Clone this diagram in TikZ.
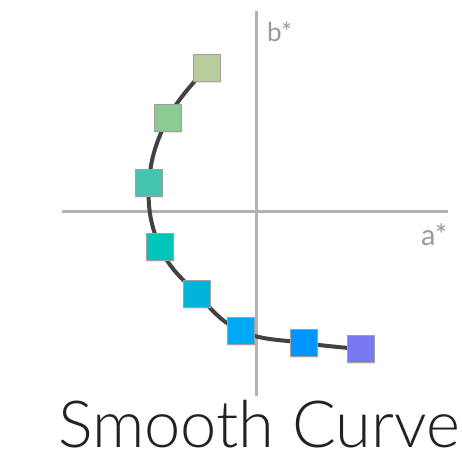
\documentclass[tikz,border=0pt]{standalone}
\usepackage{fontspec}
\setmainfont{Lato}
\newfontfamily\thinfont{Lato Light}
\usetikzlibrary{backgrounds,shadows}
\definecolor{axisgray}{HTML}{B2B2B2}
\definecolor{labelgray}{HTML}{999999}
\definecolor{curvegray}{HTML}{424242}
\definecolor{swatchedge}{HTML}{A0A0A0}
\definecolor{titleink}{HTML}{222222}
\definecolor{sageA}{HTML}{B9CC9B}
\definecolor{sageB}{HTML}{8BCB93}
\definecolor{tealA}{HTML}{44C4AC}
\definecolor{tealB}{HTML}{00C5B8}
\definecolor{cyanA}{HTML}{00B4DC}
\definecolor{cyanB}{HTML}{00A9F5}
\definecolor{blueA}{HTML}{0096FF}
\definecolor{violetA}{HTML}{7878F2}
\tikzset{
  swatch/.style={draw=swatchedge,line width=1.3pt,minimum size=27.5pt,inner sep=0pt,
    drop shadow={opacity=0.18,shadow xshift=0.6pt,shadow yshift=-0.9pt}},
  axis/.style={draw=axisgray,line width=3pt},
  curve/.style={draw=curvegray,line width=4pt},
  axislabel/.style={text=labelgray,inner sep=0pt,font=\fontsize{26}{26}\selectfont}
}

\begin{document}
\begin{tikzpicture}[x=1pt,y=-1pt]
\useasboundingbox (0,0) rectangle (462,462);
% swatches along the curve
\node[swatch,fill=sageA] (s1) at (207,68) {};
\node[swatch,fill=sageB] (s2) at (168,118) {};
\node[swatch,fill=tealA] (s3) at (149,183) {};
\node[swatch,fill=tealB] (s4) at (160,247) {};
\node[swatch,fill=cyanA] (s5) at (197,294) {};
\node[swatch,fill=cyanB] (s6) at (241,331) {};
\node[swatch,fill=blueA] (s7) at (304,343) {};
\node[swatch,fill=violetA] (s8) at (361,349) {};
% axes
\coordinate (btop) at (256,11);
\coordinate (bbot) at (256,396);
\coordinate (aleft) at (62,211);
\coordinate (aright) at (448,211);
\node[axislabel,anchor=base west] (blab) at (267,42) {b*};
\node[axislabel,anchor=base west,font=\fontsize{29}{29}\selectfont] (alab) at (421,245) {a*};
\begin{scope}[on background layer]
\draw[axis] (btop) -- (bbot);
\draw[axis] (aleft) -- (aright);
\draw[curve] plot[smooth,tension=0.7] coordinates {(s1) (s2) (s3) (s4) (s5) (s6) (s7) (s8)};
\end{scope}
\node[anchor=base west,inner sep=0pt,text=titleink,font=\thinfont\fontsize{65}{65}\selectfont] (title) at (58,447) {Smooth Curve};
\end{tikzpicture}
\end{document}
